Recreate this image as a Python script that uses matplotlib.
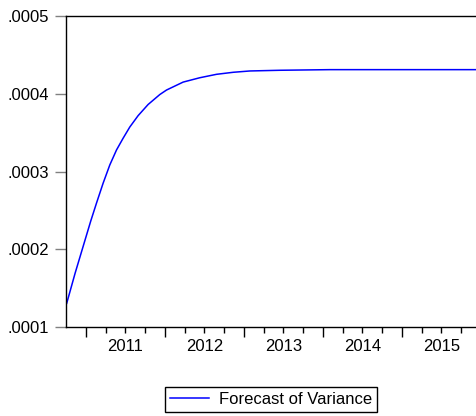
import matplotlib
matplotlib.use("Agg")
import matplotlib.pyplot as plt
from matplotlib.ticker import FixedLocator, NullFormatter

plt.rcParams['font.family'] = ['Liberation Sans', 'DejaVu Sans']

# Data (decimal year, forecast variance)
dates = [2010.759, 2010.865, 2010.991, 2011.063, 2011.135, 2011.219, 2011.304,
         2011.389, 2011.472, 2011.557, 2011.662, 2011.789, 2011.937, 2012.022,
         2012.232, 2012.443, 2012.654, 2012.865, 2013.076, 2013.456, 2014.089,
         2015.000, 2016.000]
variance = [0.0001305, 0.0001691, 0.0002119, 0.0002363, 0.0002591, 0.0002848,
            0.0003084, 0.0003277, 0.0003427, 0.0003572, 0.0003718, 0.0003862,
            0.0003990, 0.0004048, 0.0004150, 0.0004206, 0.0004250, 0.0004276,
            0.0004293, 0.0004302, 0.0004310, 0.0004310, 0.0004310]
years = [2011, 2012, 2013, 2014, 2015]
yticks = [0.0001, 0.0002, 0.0003, 0.0004, 0.0005]
ytick_labels = ['.0001', '.0002', '.0003', '.0004', '.0005']
series_name = 'Forecast of Variance'

W, H = 476, 416
fig = plt.figure(figsize=(W / 100, H / 100), dpi=100)
left, right, bottom, top = 66, 481, 416 - 327, 416 - 16
ax = fig.add_axes([left / W, bottom / H, (right - left) / W, (top - bottom) / H])

line, = ax.plot(dates, variance, color='#0000ff', lw=1.1, label=series_name,
                solid_joinstyle='round')

ax.set_xlim(2010.75, 2016.0)
ax.set_ylim(0.0001, 0.0005)

ax.set_yticks(yticks)
ax.set_yticklabels(ytick_labels)
ax.tick_params(axis='y', direction='out', length=8, width=1, color='#808080',
               labelsize=12, pad=4)

# x: major ticks at year boundaries, minor at quarters; labels mid-year
ax.xaxis.set_major_locator(FixedLocator(years))
ax.xaxis.set_major_formatter(NullFormatter())
quarters = [y + q / 4 for y in [2010] + years for q in range(4)]
quarters = [q for q in quarters if q not in years and 2010.75 < q < 2016]
ax.xaxis.set_minor_locator(FixedLocator(quarters))
ax.tick_params(axis='x', which='major', direction='out', length=7, width=1, color='black')
ax.tick_params(axis='x', which='minor', direction='out', length=4.5, width=1, color='black')
for y in years:
    ax.text(y + 0.5, -0.038, str(y), transform=ax.get_xaxis_transform(),
            ha='center', va='top', fontsize=12)

for s in ax.spines.values():
    s.set_linewidth(1.0)
    s.set_color('black')

fig.legend(handles=[line], labels=[series_name], loc='center',
           bbox_to_anchor=(271 / W, 1 - 399 / H), fontsize=12,
           frameon=True, fancybox=False, edgecolor='black', framealpha=1,
           handlelength=2.3, borderpad=0.3, handletextpad=0.6, borderaxespad=0)

fig.savefig('out.png', dpi=100)
